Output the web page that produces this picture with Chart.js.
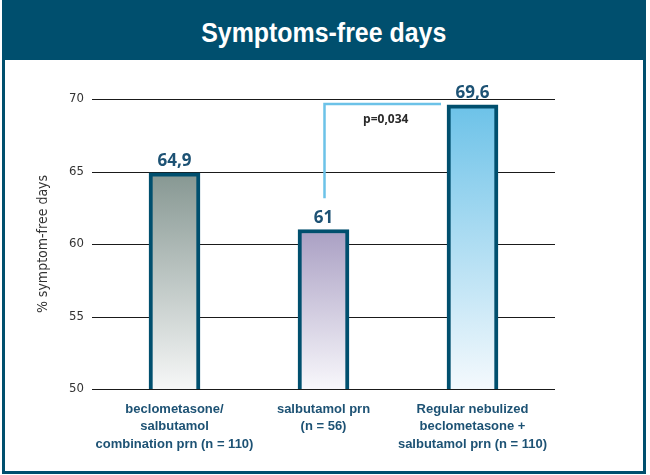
<!DOCTYPE html>
<html>
<head>
<meta charset="utf-8">
<script src="https://cdn.jsdelivr.net/npm/chart.js@4/dist/chart.umd.min.js"></script>
<style>
    html, body { margin: 0; padding: 0; background: #fff; }
    #frame {
        position: absolute; left: 2px; top: 0; width: 638px; height: 471px;
        border: 3px solid #004f6e; border-top: none; background: #fff;
    }
    #head {
        height: 60px; background: #004f6e; color: #fff; text-align: center;
        font: bold 28px 'Liberation Sans', Arial, sans-serif; line-height: 66px;
    }
    #head span { display: inline-block; transform: scaleX(0.89); }
    #wrap { position: absolute; left: 0; top: 60px; width: 638px; height: 411px; }
</style>
</head>
<body>
<div id="frame">
    <div id="head"><span>Symptoms-free days</span></div>
    <div id="wrap"><canvas id="chart"></canvas></div>
</div>
<script>
const categories = [
    ["beclometasone/", "salbutamol", "combination prn (n = 110)"],
    ["salbutamol prn", "(n = 56)"],
    ["Regular nebulized", "beclometasone +", "salbutamol prn (n = 110)"],
];
const values = [64.9, 61, 69.6];
const valueLabels = ["64,9", "61", "69,6"];
const yTicks = [50, 55, 60, 65, 70];
const pLabel = "p=0,034";

const topColors = ["#869792", "#a99fc3", "#6cc2e8"];
const bottomColors = ["#f6f7f7", "#f8f7fb", "#f4f9fd"];
const NAVY = "#004f6e";
const NARROW = "'DejaVu Sans Condensed', 'Liberation Sans', Arial, sans-serif";

// gridlines run a bit wider than the bar area
const gridLines = {
    id: "gridLines",
    beforeDatasetsDraw(chart) {
        const {ctx, chartArea, scales} = chart;
        ctx.save();
        ctx.strokeStyle = "#1a1a1a";
        ctx.lineWidth = 1;
        yTicks.forEach(t => {
            const y = Math.round(scales.y.getPixelForValue(t)) + 0.5;
            ctx.beginPath();
            ctx.moveTo(chartArea.left - 8, y);
            ctx.lineTo(chartArea.right + 8, y);
            ctx.stroke();
        });
        ctx.restore();
    }
};

const annotations = {
    id: "annotations",
    afterDatasetsDraw(chart) {
        const {ctx, scales} = chart;
        const bars = chart.getDatasetMeta(0).data;
        ctx.save();
        ctx.fillStyle = "#1d5274";
        ctx.font = "bold 17px 'Open Sans', sans-serif";
        ctx.textAlign = "center";
        ctx.textBaseline = "bottom";
        bars.forEach((b, i) => ctx.fillText(valueLabels[i], b.x, b.y - 3));

        // significance bracket between bar 2 and bar 3
        const x1 = bars[1].x + 1;
        const x2 = bars[2].x - bars[2].width / 2 - 6;
        const yLow = scales.y.getPixelForValue(63.15);
        const yTop = scales.y.getPixelForValue(69.65);
        ctx.strokeStyle = "#6cc2e8";
        ctx.lineWidth = 2.5;
        ctx.beginPath();
        ctx.moveTo(x1, yLow);
        ctx.lineTo(x1, yTop);
        ctx.lineTo(x2, yTop);
        ctx.stroke();

        ctx.fillStyle = "#2a2a2a";
        ctx.font = "bold 12px 'Open Sans', sans-serif";
        ctx.textBaseline = "middle";
        ctx.fillText(pLabel, (x1 + x2) / 2 + 3, yTop + 16);
        ctx.restore();
    }
};

new Chart(document.getElementById("chart"), {
    type: "bar",
    data: {
        labels: categories,
        datasets: [{
            data: values,
            barThickness: 51,
            borderWidth: 4,
            borderColor: NAVY,
            borderSkipped: false,
            backgroundColor: (c) => {
                const chart = c.chart;
                if (!chart.chartArea) return topColors[c.dataIndex];
                const y = chart.scales.y;
                const g = chart.ctx.createLinearGradient(0, y.getPixelForValue(values[c.dataIndex]), 0, y.getPixelForValue(50));
                g.addColorStop(0, topColors[c.dataIndex]);
                g.addColorStop(1, bottomColors[c.dataIndex]);
                return g;
            },
        }],
    },
    options: {
        responsive: true,
        maintainAspectRatio: false,
        animation: false,
        layout: { padding: { left: 30, right: 96, top: 39, bottom: 0 } },
        plugins: { legend: { display: false }, tooltip: { enabled: false } },
        scales: {
            x: {
                grid: { display: false },
                border: { display: false },
                ticks: {
                    color: "#1d5274",
                    font: { family: "'Liberation Sans', Arial, sans-serif", size: 13, weight: "bold", lineHeight: 1.38 },
                    padding: 3,
                    maxRotation: 0,
                    autoSkip: false,
                },
                afterFit: (s) => { s.height = 82; },
            },
            y: {
                min: 50,
                max: 70,
                grid: { display: false },
                border: { display: false },
                afterBuildTicks: (s) => { s.ticks = yTicks.map(v => ({value: v})); },
                ticks: {
                    color: "#333",
                    font: { family: NARROW, size: 13 },
                    padding: 8,
                },
                title: {
                    display: true,
                    text: "% symptom-free days",
                    color: "#333",
                    font: { family: NARROW, size: 14 },
                    padding: 0,
                },
                afterFit: (s) => { s.width = 65; },
            },
        },
    },
    plugins: [gridLines, annotations],
});
</script>
</body>
</html>
